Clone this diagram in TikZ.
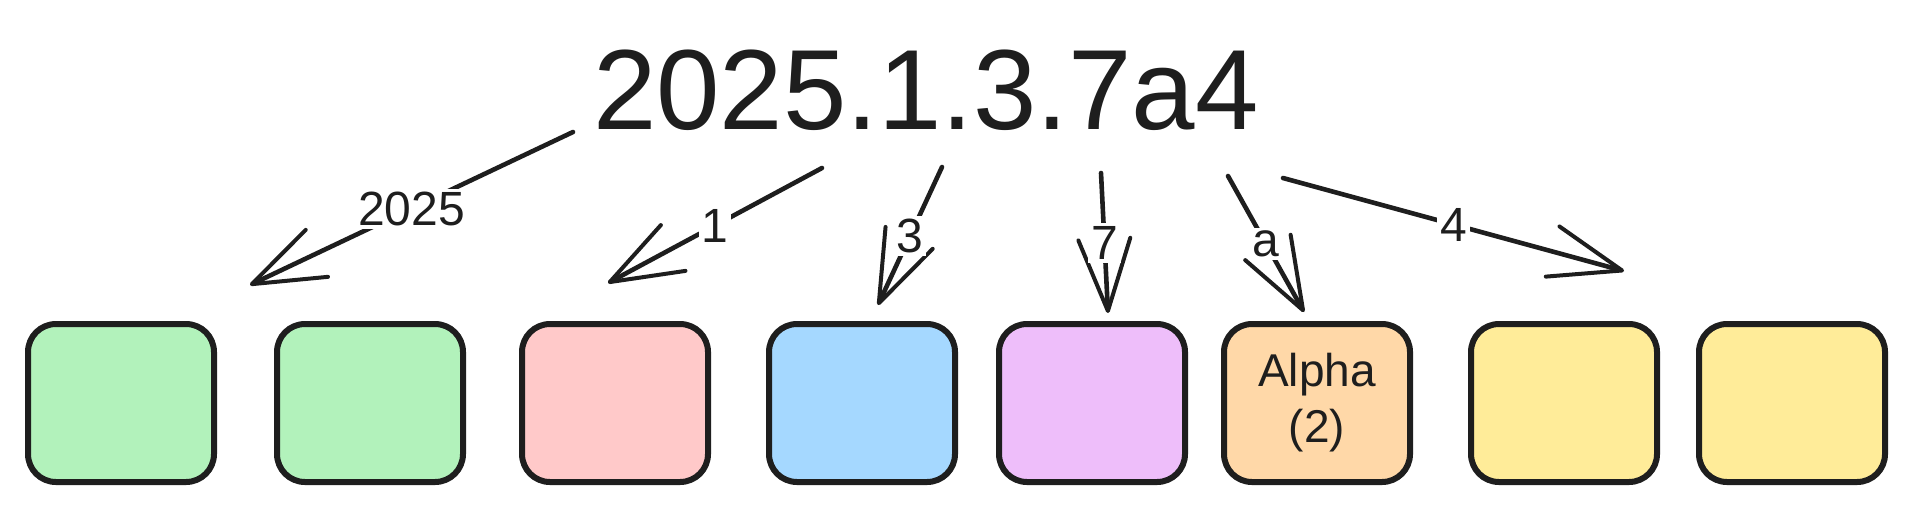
\documentclass[tikz,border=0pt]{standalone}
\usepackage{fontspec}
\setmainfont{Liberation Sans}
\usetikzlibrary{arrows.meta}

\definecolor{ink}{HTML}{1E1E1E}
\definecolor{mint}{HTML}{B2F2BB}
\definecolor{rose}{HTML}{FFC9C9}
\definecolor{sky}{HTML}{A5D8FF}
\definecolor{lilac}{HTML}{EEBEFA}
\definecolor{peach}{HTML}{FFD8A8}
\definecolor{butter}{HTML}{FFEC99}

\tikzset{
    segbox/.style={draw=ink, line width=3pt, rounded corners=14pt, minimum width=93pt, minimum height=79pt, inner sep=0pt},
    split/.style={draw=ink, line width=2.3pt, line cap=round, -{Straight Barb[length=36pt, width=26pt, line width=2pt, round]}},
    partlabel/.style={fill=white, inner sep=1.5pt, text=ink, font=\fontsize{24}{28}\selectfont}
}

\begin{document}
\begin{tikzpicture}[x=0.5pt, y=-0.5pt]
    \useasboundingbox (0,0) rectangle (1915,510);
    \node[text=ink, font=\fontsize{57}{60}\selectfont] (ver) at (926,90) {2025.1.3.7a4};
    \foreach \x/\c [count=\k] in {121/mint,370/mint,615/rose,862/sky,1092/lilac,1317/peach,1564/butter,1792/butter}
        {
        \node[segbox, fill=\c] (b\k) at (\x,403) {};
        }
    \node[align=center, text=ink, font=\fontsize{23}{28}\selectfont] (alpha) at (b6) {Alpha\\(2)};
    \foreach \sx/\sy/\tx/\ty/\lbl [count=\k] in {573/132/250/285/2025,822/168/608/283/1,942/167/878/305/3,1101/173/1108/313/7,1228/176/1304/312/a,1283/178/1624/271/4}
        {
        \coordinate (s\k) at (\sx,\sy);
        \coordinate (t\k) at (\tx,\ty);
        \draw[split] (s\k) -- (t\k) node[midway, partlabel] {\lbl};
        }
\end{tikzpicture}
\end{document}
